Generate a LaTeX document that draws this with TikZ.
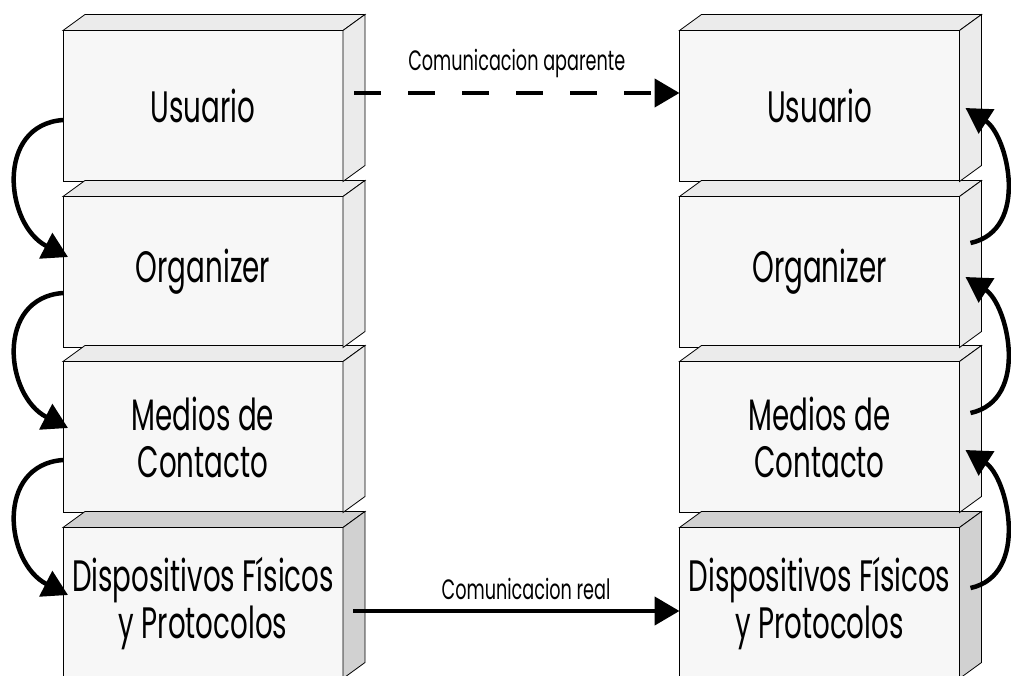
\documentclass[tikz,border=0pt]{standalone}
\usepackage{fontspec}
\setmainfont{Poppins}[FakeStretch=0.63]
\usetikzlibrary{arrows.meta,calc,positioning}

\definecolor{cara}{gray}{0.97}
\definecolor{lado}{gray}{0.92}
\definecolor{ladobajo}{gray}{0.82}

\tikzset{
  capa/.style={draw, line width=0.8pt, fill=cara, minimum width=280pt,
    minimum height=151pt, inner sep=0pt, outer sep=0pt, align=center,
    font=\fontsize{44}{47}\selectfont},
  flecha/.style={line width=4.5pt, -{Triangle[length=25pt,width=28pt]}},
  rotulo/.style={font=\fontsize{28}{30}\selectfont, inner sep=0pt}
}

% top and right faces of a layer box
\newcommand{\caja}[2]{%
  \draw[line width=0.8pt, fill=#2] (#1.north west) -- ($(#1.north west)+(22,-16)$)
    -- ($(#1.north east)+(22,-16)$) -- (#1.north east) -- cycle;
  \draw[line width=0.8pt, fill=#2] (#1.north east) -- ($(#1.north east)+(22,-16)$)
    -- ($(#1.south east)+(22,-16)$) -- (#1.south east) -- cycle;}

\begin{document}
\begin{tikzpicture}[x=1pt,y=-1pt]
\useasboundingbox[fill=white] (0,0) rectangle (1011,676);

% left stack
\node[capa] (u1) at (203,106) {Usuario};
\node[capa] (o1) at (203,272) {Organizer};
\node[capa] (m1) at (203,437) {Medios de\\Contacto};
\node[capa] (d1) at (203,603) {Dispositivos Físicos\\y Protocolos};
% right stack
\node[capa] (u2) at (819.5,106) {Usuario};
\node[capa] (o2) at (819.5,272) {Organizer};
\node[capa] (m2) at (819.5,437) {Medios de\\Contacto};
\node[capa] (d2) at (819.5,603) {Dispositivos Físicos\\y Protocolos};

\caja{d1}{ladobajo} \caja{m1}{lado} \caja{o1}{lado} \caja{u1}{lado}
\caja{d2}{ladobajo} \caja{m2}{lado} \caja{o2}{lado} \caja{u2}{lado}

% going down on the left
\draw[flecha] ([yshift=-14pt]u1.west) .. controls +(-68,5) and +(-63,-32) .. ([xshift=5pt,yshift=15pt]o1.west);
\draw[flecha] ([yshift=-21pt]o1.west) .. controls +(-68,5) and +(-63,-32) .. ([xshift=5pt,yshift=9pt]m1.west);
\draw[flecha] ([yshift=-23pt]m1.west) .. controls +(-68,5) and +(-63,-32) .. ([xshift=5pt,yshift=8pt]d1.west);

% going up on the right
\draw[flecha] ([xshift=11pt,yshift=29pt]o2.east) .. controls +(60,-13) and +(42,27) .. ([xshift=6pt,yshift=-2pt]u2.east);
\draw[flecha] ([xshift=11pt,yshift=24pt]m2.east) .. controls +(60,-13) and +(42,27) .. ([xshift=6pt,yshift=-5pt]o2.east);
\draw[flecha] ([xshift=11pt,yshift=15pt]d2.east) .. controls +(60,-13) and +(42,27) .. ([xshift=6pt,yshift=-13pt]m2.east);

% peer to peer
\draw[flecha, dash pattern=on 27pt off 27pt] ([xshift=11pt,yshift=13pt]u1.east) -- ([yshift=13pt]u2.west)
  node[rotulo, midway, above=13pt] (ap) {Comunicacion aparente};
\draw[flecha] ([xshift=10pt,yshift=-8pt]d1.east) -- ([yshift=-8pt]d2.west)
  node[rotulo, pos=0.53, above=9pt] (re) {Comunicacion real};
\end{tikzpicture}
\end{document}
